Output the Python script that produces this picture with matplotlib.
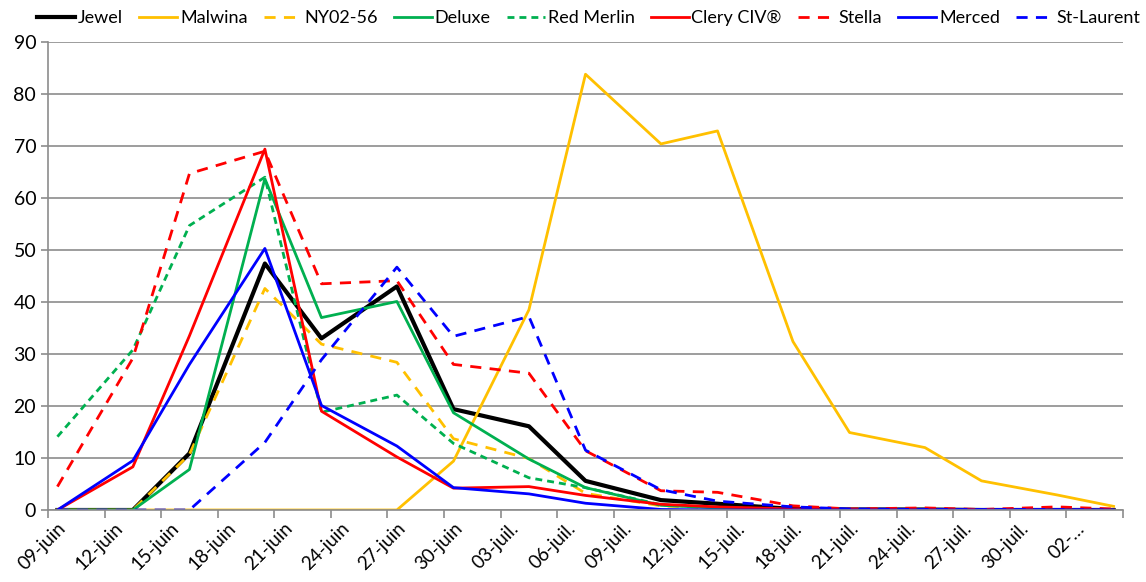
import matplotlib.pyplot as plt
import numpy as np

# sampling days, counted from 09-juin
days = [0, 4, 7, 11, 14, 18, 21, 25, 28, 32, 35, 39, 42, 46, 49, 53, 56]

jewel = [0, 0, 10.9, 47.4, 33.0, 43.0, 19.4, 16.1, 5.6, 1.9, 1.2, 0.2, 0.1, 0.1, 0, 0, 0]
malwina = [0, 0, 0, 0, 0, 0, 9.4, 38.5, 83.8, 70.4, 72.9, 32.4, 14.9, 12.0, 5.6, 2.9, 0.7]
ny02_56 = [0, 0, 10.7, 42.6, 31.9, 28.4, 13.7, 9.9, 3.2, 0.8, 0.4, 0.1, 0, 0, 0, 0, 0]
deluxe = [0, 0, 7.8, 63.7, 37.0, 40.1, 18.7, 9.8, 4.3, 0.9, 0.4, 0.1, 0, 0, 0, 0, 0]
red_merlin = [14.1, 30.8, 54.7, 64.0, 18.8, 22.1, 12.8, 6.2, 4.3, 1.0, 0.5, 0.1, 0, 0, 0, 0, 0]
clery = [0, 8.3, 33.5, 69.4, 19.0, 10.2, 4.2, 4.5, 2.8, 1.1, 0.6, 0.2, 0, 0, 0, 0, 0]
stella = [4.5, 29.2, 64.7, 69.0, 43.5, 44.1, 28.0, 26.3, 11.4, 3.7, 3.4, 0.8, 0.2, 0.4, 0.1, 0.6, 0.2]
merced = [0, 9.5, 28.0, 50.3, 20.1, 12.3, 4.3, 3.1, 1.3, 0.1, 0, 0, 0, 0, 0, 0, 0]
st_laurent = [0, 0, 0, 13.0, 28.9, 46.7, 33.4, 37.2, 11.5, 3.9, 1.7, 0.6, 0.2, 0.1, 0.1, 0.1, 0]

tick_labels = ["09-juin", "12-juin", "15-juin", "18-juin", "21-juin", "24-juin", "27-juin",
               "30-juin", "03-juil.", "06-juil.", "09-juil.", "12-juil.", "15-juil.", "18-juil.",
               "21-juil.", "24-juil.", "27-juil.", "30-juil.", "02-\u2026"]

series = [
    ("Jewel", jewel, "black", "-", 3.0),
    ("Malwina", malwina, "#FFC000", "-", 2.0),
    ("NY02-56", ny02_56, "#FFC000", (0, (4, 3)), 2.0),
    ("Deluxe", deluxe, "#00B050", "-", 2.0),
    ("Red Merlin", red_merlin, "#00B050", (0, (2.5, 1.8)), 2.0),
    ("Clery CIV\u00ae", clery, "#FF0000", "-", 2.0),
    ("Stella", stella, "#FF0000", (0, (4, 3)), 2.0),
    ("Merced", merced, "#0000FF", "-", 2.0),
    ("St-Laurent", st_laurent, "#0000FF", (0, (4, 3)), 2.0),
]

plt.rcParams['font.family'] = ['Lato', 'DejaVu Sans']

fig = plt.figure(figsize=(11.46, 5.82), dpi=100)
ax = fig.add_axes([48 / 1146, 1 - 510 / 582, (1123 - 48) / 1146, (510 - 42) / 582])

for name, vals, col, ls, lw in series:
    ax.plot(days, vals, color=col, linestyle=ls, linewidth=lw, label=name)

ax.set_xlim(-0.5, 56.5)
ax.set_ylim(0, 90)
ax.set_yticks(np.arange(0, 91, 10))
ax.yaxis.grid(True, color="#8c8c8c", linewidth=1.2)
ax.set_axisbelow(True)

# tick marks on day-slot boundaries, labels centred on the first day of each group
ax.set_xticks(np.arange(-0.5, 57, 3))
ax.set_xticklabels([])
ax.set_xticks(np.arange(0, 57, 3), minor=True)
ax.set_xticklabels(tick_labels, minor=True, rotation=45, ha="right", rotation_mode="anchor",
                   fontsize=13.5)
ax.tick_params(axis="x", which="major", length=6, color="#8c8c8c", width=1.2)
ax.tick_params(axis="x", which="minor", length=0, pad=7)
ax.tick_params(axis="y", length=5, color="#8c8c8c", width=1.2, labelsize=14)

for s in ["top", "right"]:
    ax.spines[s].set_visible(False)
for s in ["left", "bottom"]:
    ax.spines[s].set_color("#8c8c8c")
    ax.spines[s].set_linewidth(1.2)

fig.legend(loc="upper center", bbox_to_anchor=(0.514, 1.01), ncol=9, frameon=False,
           fontsize=13, handlelength=2.1, columnspacing=0.9, handletextpad=0.15)

fig.savefig("out.png", dpi=100)
